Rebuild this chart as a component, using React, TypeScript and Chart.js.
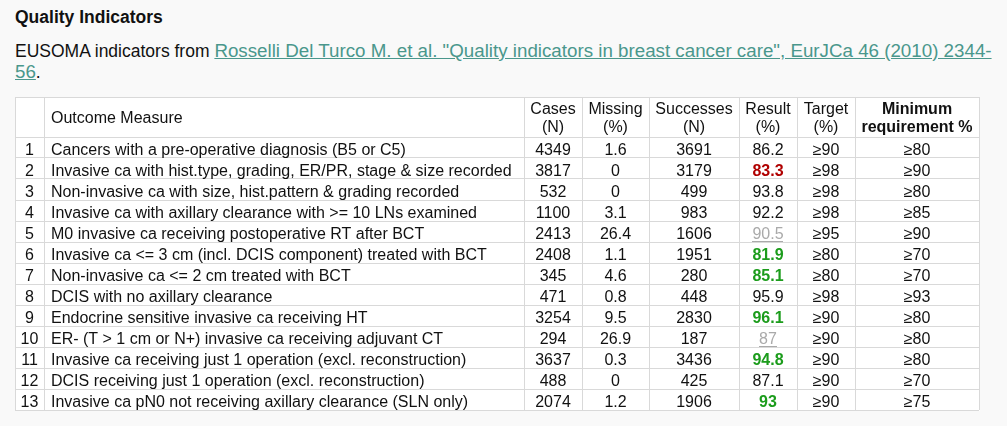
import React, { useEffect, useRef } from 'react';
import { Chart, registerables } from 'chart.js';

Chart.register(...registerables);

// ---------- data ----------
const ROW_NUMBERS = [1, 2, 3, 4, 5, 6, 7, 8, 9, 10, 11, 12, 13];
const OUTCOME_MEASURES = [
  'Cancers with a pre-operative diagnosis (B5 or C5)',
  'Invasive ca with hist.type, grading, ER/PR, stage & size recorded',
  'Non-invasive ca with size, hist.pattern & grading recorded',
  'Invasive ca with axillary clearance with >= 10 LNs examined',
  'M0 invasive ca receiving postoperative RT after BCT',
  'Invasive ca <= 3 cm (incl. DCIS component) treated with BCT',
  'Non-invasive ca <= 2 cm treated with BCT',
  'DCIS with no axillary clearance',
  'Endocrine sensitive invasive ca receiving HT',
  'ER- (T > 1 cm or N+) invasive ca receiving adjuvant CT',
  'Invasive ca receiving just 1 operation (excl. reconstruction)',
  'DCIS receiving just 1 operation (excl. reconstruction)',
  'Invasive ca pN0 not receiving axillary clearance (SLN only)',
];
const CASES = [4349, 3817, 532, 1100, 2413, 2408, 345, 471, 3254, 294, 3637, 488, 2074];
const MISSING = [1.6, 0, 0, 3.1, 26.4, 1.1, 4.6, 0.8, 9.5, 26.9, 0.3, 0, 1.2];
const SUCCESSES = [3691, 3179, 499, 983, 1606, 1951, 280, 448, 2830, 187, 3436, 425, 1906];
const RESULTS = [86.2, 83.3, 93.8, 92.2, 90.5, 81.9, 85.1, 95.9, 96.1, 87, 94.8, 87.1, 93];
const RESULT_STATUS = ['none', 'fail', 'none', 'none', 'low', 'pass', 'pass', 'none', 'pass', 'low', 'pass', 'none', 'pass'];
const TARGETS = [90, 98, 98, 98, 95, 80, 80, 98, 90, 90, 90, 90, 90];
const MIN_REQUIREMENTS = [80, 90, 80, 85, 90, 70, 70, 93, 80, 80, 80, 70, 75];
const HEADERS = [
  [''],
  ['Outcome Measure'],
  ['Cases', '(N)'],
  ['Missing', '(%)'],
  ['Successes', '(N)'],
  ['Result', '(%)'],
  ['Target', '(%)'],
  ['Minimum', 'requirement %'],
];

// ---------- layout / style ----------
const FONT = "'Liberation Sans', Arial, Helvetica, sans-serif";
const COL_EDGES = [0, 29, 509, 567, 634, 724, 782, 840, 964];
const TABLE_W = 964;
const ROW_H = 21;
const HEADER_H = 40;
const HEADER_UNITS = HEADER_H / ROW_H;
const LEFT_PAD = 7;
const GRID = '#d9d9d9';
const LINK = '#4a978c';
const STATUS_STYLE: Record<string, { color: string; bold: boolean; underline: boolean }> = {
  none: { color: '#111', bold: false, underline: false },
  fail: { color: '#b00000', bold: true, underline: false },
  pass: { color: '#1c9c1c', bold: true, underline: false },
  low: { color: '#aaaaaa', bold: false, underline: true },
};

type Cell = { lines: string[]; bold?: boolean; color?: string; underline?: boolean };

function anchorX(c: number) {
  return c === 1 ? COL_EDGES[1] + LEFT_PAD : (COL_EDGES[c] + COL_EDGES[c + 1]) / 2;
}

function bodyCells(c: number): Cell[] {
  return ROW_NUMBERS.map((_, i) => {
    switch (c) {
      case 0: return { lines: [String(ROW_NUMBERS[i])] };
      case 1: return { lines: [OUTCOME_MEASURES[i]] };
      case 2: return { lines: [String(CASES[i])] };
      case 3: return { lines: [String(MISSING[i])] };
      case 4: return { lines: [String(SUCCESSES[i])] };
      case 5: {
        const s = STATUS_STYLE[RESULT_STATUS[i]];
        return { lines: [String(RESULTS[i])], bold: s.bold, color: s.color, underline: s.underline };
      }
      case 6: return { lines: ['\u2265' + TARGETS[i]] };
      default: return { lines: ['\u2265' + MIN_REQUIREMENTS[i]] };
    }
  });
}

const tablePlugin = {
  id: 'tableCells',
  beforeDraw(chart: any) {
    const { ctx, width, height } = chart;
    ctx.save();
    ctx.fillStyle = '#ffffff';
    ctx.fillRect(0, 0, width, height);
    ctx.restore();
  },
  afterDatasetsDraw(chart: any) {
    const ctx = chart.ctx;
    ctx.save();
    chart.data.datasets.forEach((ds: any, di: number) => {
      const meta = chart.getDatasetMeta(di);
      meta.data.forEach((el: any, i: number) => {
        const cell: Cell = ds.cells[i];
        const col: number = ds.cols[i];
        const isHeader = ds.isHeader;
        const bold = cell.bold || (isHeader && col === 7);
        ctx.font = `${bold ? 'bold ' : ''}16px ${FONT}`;
        ctx.fillStyle = cell.color || '#111';
        ctx.textAlign = col === 1 ? 'left' : 'center';
        ctx.textBaseline = 'alphabetic';
        const n = cell.lines.length;
        cell.lines.forEach((line, k) => {
          const base = isHeader ? el.y + 6 + (k - (n - 1) / 2) * 18 : el.y + 7.5;
          ctx.fillText(line, el.x, base);
          if (cell.underline) {
            const w = ctx.measureText(line).width;
            const x0 = col === 1 ? el.x : el.x - w / 2;
            ctx.fillRect(Math.round(x0), Math.round(base) + 2, Math.round(w), 1);
          }
        });
      });
    });
    ctx.restore();
  },
};

export default function App() {
  const ref = useRef<HTMLCanvasElement | null>(null);

  useEffect(() => {
    if (!ref.current) return;
    const datasets: any[] = [];
    for (let c = 0; c < HEADERS.length; c++) {
      datasets.push({
        label: 'col' + c,
        data: ROW_NUMBERS.map((_, i) => ({ x: anchorX(c), y: i + 0.5 })),
        cells: bodyCells(c),
        cols: ROW_NUMBERS.map(() => c),
        isHeader: false,
        pointRadius: 0,
        showLine: false,
      });
    }
    datasets.push({
      label: 'header',
      data: HEADERS.map((_, c) => ({ x: anchorX(c), y: -HEADER_UNITS / 2 })),
      cells: HEADERS.map((lines) => ({ lines })),
      cols: HEADERS.map((_, c) => c),
      isHeader: true,
      pointRadius: 0,
      showLine: false,
    });

    const gridScale = (edges: number[]) => ({
      display: true,
      ticks: { display: false },
      border: { display: false },
      grid: { color: GRID, lineWidth: 1, drawTicks: false },
      afterBuildTicks: (scale: any) => {
        scale.ticks = edges.map((v) => ({ value: v }));
      },
    });

    const chart = new Chart(ref.current, {
      type: 'scatter',
      data: { datasets },
      options: {
        animation: false,
        responsive: false,
        devicePixelRatio: 1,
        events: [],
        layout: { padding: { left: 0, top: 0, right: 1, bottom: 1 } },
        plugins: { legend: { display: false }, tooltip: { enabled: false }, title: { display: false } },
        scales: {
          x: { type: 'linear', min: 0, max: TABLE_W, ...gridScale(COL_EDGES) } as any,
          y: {
            type: 'linear',
            min: -HEADER_UNITS,
            max: ROW_NUMBERS.length,
            reverse: true,
            ...gridScale([-HEADER_UNITS, ...ROW_NUMBERS.map((_, i) => i), ROW_NUMBERS.length]),
          } as any,
        },
      } as any,
      plugins: [tablePlugin],
    });
    return () => chart.destroy();
  }, []);

  return (
    <div
      style={{
        position: 'fixed',
        left: 0,
        top: 0,
        width: 1007,
        height: 426,
        background: '#f9f9f9',
        fontFamily: FONT,
        color: '#111',
        overflow: 'hidden',
      }}
    >
      <div style={{ position: 'absolute', left: 15, top: 7, fontSize: 17.5, fontWeight: 'bold', lineHeight: '20px', whiteSpace: 'nowrap' }}>
        Quality Indicators
      </div>
      <div style={{ position: 'absolute', left: 15, top: 41, fontSize: 17.5, lineHeight: '20.5px', whiteSpace: 'nowrap' }}>
        EUSOMA indicators from{' '}
        <a href="#" style={{ color: LINK, textDecoration: 'underline', fontSize: 18.75, lineHeight: '20.5px' }}>
          Rosselli Del Turco M. et al. "Quality indicators in breast cancer care", EurJCa 46 (2010) 2344-
          <br />
          56
        </a>
        .
      </div>
      <canvas
        ref={ref}
        width={965}
        height={314}
        style={{ position: 'absolute', left: 15, top: 97, width: 965, height: 314 }}
      />
    </div>
  );
}
